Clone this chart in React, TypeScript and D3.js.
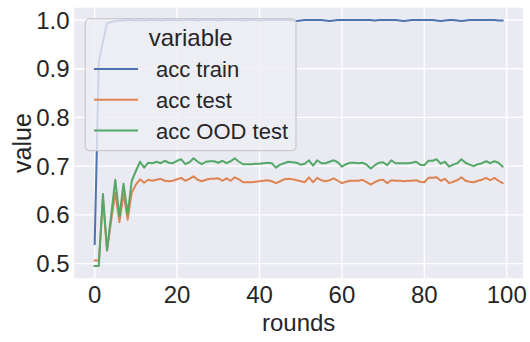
import React, { useRef, useEffect } from "react";
import * as d3 from "d3";

// values, one per round (0..99)
const accTrain = [
  0.540, 0.915, 0.955, 0.994, 0.996, 0.998, 0.999, 0.999, 1.0, 1.0,
  0.999, 1.0, 0.999, 1.0, 1.0, 1.0, 0.999, 1.0, 1.0, 1.0,
  0.999, 1.0, 1.0, 1.0, 1.0, 0.999, 1.0, 1.0, 1.0, 1.0,
  0.999, 1.0, 1.0, 1.0, 1.0, 1.0, 0.999, 1.0, 1.0, 1.0,
  0.999, 1.0, 1.0, 1.0, 1.0, 1.0, 1.0, 1.0, 0.999, 0.998,
  0.999, 1.0, 1.0, 1.0, 1.0, 1.0, 0.999, 0.998, 0.999, 1.0,
  1.0, 1.0, 1.0, 1.0, 1.0, 1.0, 1.0, 1.0, 0.999, 1.0,
  1.0, 1.0, 1.0, 1.0, 0.999, 0.998, 0.999, 1.0, 1.0, 1.0,
  1.0, 1.0, 1.0, 0.999, 0.998, 0.999, 1.0, 1.0, 0.999, 0.998,
  0.999, 1.0, 1.0, 1.0, 1.0, 1.0, 1.0, 1.0, 0.999, 0.999,
];

const accTest = [
  0.506, 0.506, 0.632, 0.527, 0.588, 0.646, 0.585, 0.643, 0.590, 0.646,
  0.662, 0.673, 0.666, 0.672, 0.670, 0.672, 0.674, 0.670, 0.669, 0.670,
  0.673, 0.676, 0.670, 0.674, 0.679, 0.672, 0.669, 0.672, 0.674, 0.674,
  0.675, 0.670, 0.675, 0.670, 0.677, 0.673, 0.667, 0.667, 0.667, 0.668,
  0.669, 0.670, 0.671, 0.669, 0.665, 0.669, 0.673, 0.674, 0.673, 0.671,
  0.669, 0.667, 0.677, 0.667, 0.676, 0.671, 0.669, 0.671, 0.675, 0.670,
  0.665, 0.668, 0.670, 0.670, 0.670, 0.672, 0.667, 0.662, 0.667, 0.671,
  0.672, 0.665, 0.671, 0.670, 0.670, 0.669, 0.670, 0.670, 0.671, 0.668,
  0.667, 0.676, 0.676, 0.677, 0.670, 0.674, 0.665, 0.668, 0.671, 0.677,
  0.670, 0.668, 0.667, 0.670, 0.672, 0.676, 0.671, 0.676, 0.670, 0.665,
];

const accOodTest = [
  0.495, 0.495, 0.643, 0.527, 0.600, 0.672, 0.597, 0.664, 0.602, 0.670,
  0.690, 0.709, 0.697, 0.707, 0.706, 0.709, 0.706, 0.711, 0.707, 0.706,
  0.711, 0.714, 0.704, 0.708, 0.716, 0.709, 0.704, 0.709, 0.710, 0.710,
  0.707, 0.711, 0.706, 0.710, 0.716, 0.709, 0.704, 0.704, 0.704, 0.705,
  0.705, 0.706, 0.707, 0.706, 0.697, 0.703, 0.706, 0.709, 0.708, 0.707,
  0.703, 0.705, 0.712, 0.701, 0.712, 0.706, 0.706, 0.709, 0.712, 0.708,
  0.699, 0.704, 0.707, 0.707, 0.706, 0.707, 0.703, 0.695, 0.702, 0.707,
  0.708, 0.702, 0.712, 0.706, 0.706, 0.706, 0.706, 0.707, 0.709, 0.703,
  0.702, 0.711, 0.711, 0.714, 0.705, 0.709, 0.699, 0.703, 0.706, 0.714,
  0.707, 0.703, 0.700, 0.704, 0.706, 0.710, 0.706, 0.710, 0.707, 0.699,
];

const seriesNames = ["acc train", "acc test", "acc OOD test"];
const seriesColors = ["#4c72b0", "#dd8452", "#55a868"];
const xTicks = [0, 20, 40, 60, 80, 100];
const yTicks = [0.5, 0.6, 0.7, 0.8, 0.9, 1.0];

const FONT = "'Liberation Sans', Arial, sans-serif";
const TEXT = "#262626";

function LineChart() {
  const svgRef = useRef(null);
  useEffect(() => {
    const width = 530, height = 342;
    const left = 74.3, right = 523, top = 7.7, bottom = 278.3;

    const svg = d3.select(svgRef.current);
    svg.selectAll("*").remove();

    const x = d3.scaleLinear().domain([-4.95, 103.95]).range([left, right]);
    const y = d3.scaleLinear().domain([0.4697, 1.0253]).range([bottom, top]);

    svg.append("rect")
      .attr("x", left).attr("y", top)
      .attr("width", right - left).attr("height", bottom - top)
      .attr("fill", "#eaeaf2");

    svg.append("clipPath").attr("id", "plotclip")
      .append("rect")
      .attr("x", left).attr("y", top)
      .attr("width", right - left).attr("height", bottom - top);

    // grid
    svg.append("g").selectAll("line").data(xTicks).enter().append("line")
      .attr("x1", d => x(d)).attr("x2", d => x(d))
      .attr("y1", top).attr("y2", bottom)
      .attr("stroke", "white").attr("stroke-width", 1.33);
    svg.append("g").selectAll("line").data(yTicks).enter().append("line")
      .attr("x1", left).attr("x2", right)
      .attr("y1", d => y(d)).attr("y2", d => y(d))
      .attr("stroke", "white").attr("stroke-width", 1.33);

    // tick labels
    svg.append("g").selectAll("text").data(xTicks).enter().append("text")
      .attr("x", d => x(d)).attr("y", 303)
      .attr("text-anchor", "middle")
      .style("font", `24px ${FONT}`).attr("fill", TEXT)
      .text(d => d);
    svg.append("g").selectAll("text").data(yTicks).enter().append("text")
      .attr("x", left - 4.7).attr("y", d => y(d))
      .attr("dy", "0.36em")
      .attr("text-anchor", "end")
      .style("font", `24px ${FONT}`).attr("fill", TEXT)
      .text(d => d.toFixed(1));

    // axis labels
    svg.append("text")
      .attr("x", (left + right) / 2).attr("y", 331)
      .attr("text-anchor", "middle")
      .style("font", `24px ${FONT}`).attr("fill", TEXT)
      .text("rounds");
    svg.append("text")
      .attr("transform", `translate(31, ${(top + bottom) / 2}) rotate(-90)`)
      .attr("text-anchor", "middle")
      .style("font", `25px ${FONT}`).attr("fill", TEXT)
      .text("value");

    // lines
    const line = d3.line<number>()
      .x((d, i) => x(i))
      .y(d => y(d));
    const lines = svg.append("g").attr("clip-path", "url(#plotclip)");
    [accTrain, accTest, accOodTest].forEach((data, k) => {
      lines.append("path")
        .attr("d", line(data))
        .attr("fill", "none")
        .attr("stroke", seriesColors[k])
        .attr("stroke-width", 2)
        .attr("stroke-linejoin", "round")
        .attr("stroke-linecap", "square");
    });

    // legend (face close to the axes colour, alpha 0.8)
    const lg = svg.append("g");
    const lx = 85.3, ly = 18.7, lw = 210.7, lh = 132;
    lg.append("rect")
      .attr("x", lx).attr("y", ly).attr("width", lw).attr("height", lh)
      .attr("rx", 4.4)
      .attr("fill", "#eeeef4").attr("fill-opacity", 0.8)
      .attr("stroke", "#cccccc").attr("stroke-width", 1.33);
    lg.append("text")
      .attr("x", lx + lw / 2).attr("y", 46)
      .attr("text-anchor", "middle")
      .style("font", `24px ${FONT}`).attr("fill", TEXT)
      .text("variable");
    const rowY = [69, 99.8, 130.6];
    seriesNames.forEach((name, k) => {
      lg.append("line")
        .attr("x1", 94).attr("x2", 138)
        .attr("y1", rowY[k]).attr("y2", rowY[k])
        .attr("stroke", seriesColors[k]).attr("stroke-width", 2);
      lg.append("text")
        .attr("x", 156).attr("y", rowY[k] + 8)
        .style("font", `22px ${FONT}`).attr("fill", TEXT)
        .text(name);
    });

    svg.attr("width", width).attr("height", height);
  }, []);

  return (
    <svg ref={svgRef} width={530} height={342}
      style={{ position: "absolute", left: 0, top: 0, background: "white" }} />
  );
}

export default function App() {
  return <LineChart />;
}
